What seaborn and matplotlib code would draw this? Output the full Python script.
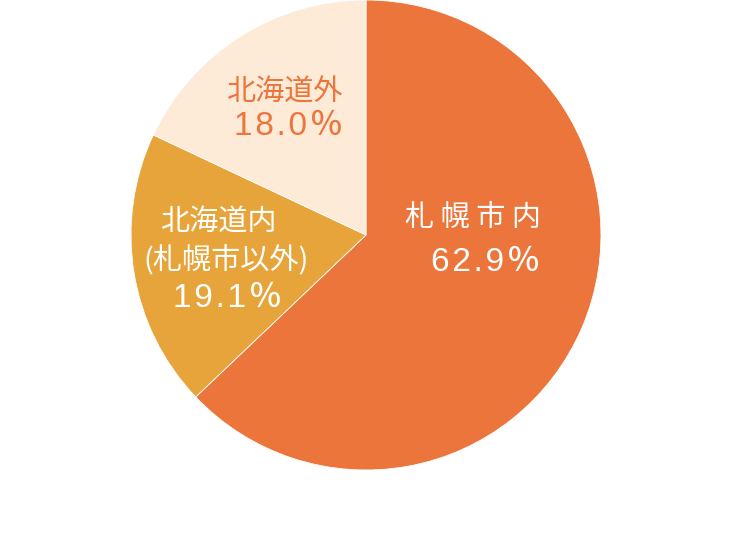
import matplotlib
matplotlib.use("Agg")
import matplotlib.pyplot as plt
import seaborn as sns

sns.set_theme(style="white")
plt.rcParams["font.family"] = ["Noto Sans CJK JP", "DejaVu Sans"]

labels = ["札幌市内", "北海道内\n(札幌市以外)", "北海道外"]
shares = [62.9, 19.1, 18.0]
colors = ["#EC753C", "#E7A43A", "#FDEAD7"]

fig = plt.figure(figsize=(7.5, 5.45), dpi=100)
ax = fig.add_axes([131 / 750, 75 / 545, 470 / 750, 470 / 545])

ax.pie(
    shares,
    colors=colors,
    startangle=90,
    counterclock=False,
    radius=1.0,
    wedgeprops=dict(edgecolor="white", linewidth=0.6),
)
ax.set_xlim(-1, 1)
ax.set_ylim(-1, 1)
ax.set_aspect("equal")
ax.axis("off")

num_font = ["Liberation Sans", "Noto Sans CJK JP", "DejaVu Sans"]


def pct(v):
    # slightly spaced digits like the original artwork
    return "\u200a".join(f"{v}") + "\u200a％"


# 札幌市内
ax.text(0.166, 0.072, "札 幌 市 内", color="white", fontsize=21,
        ha="left", va="center")
ax.text(0.74, -0.115, pct(shares[0]), color="white", fontsize=24,
        family=num_font, fontweight="medium", ha="right", va="center")

# 北海道内(札幌市以外)
ax.text(-0.63, 0.055, "北海道内", color="white", fontsize=21,
        ha="center", va="center")
ax.text(-0.596, -0.106, "(札幌市以外)", color="white", fontsize=21,
        ha="center", va="center")
ax.text(-0.59, -0.268, pct(shares[1]), color="white", fontsize=24,
        family=num_font, fontweight="medium", ha="center", va="center")

# 北海道外
ax.text(-0.098, 0.604, "北海道外", color="#EC753C", fontsize=21,
        ha="right", va="center")
ax.text(-0.098, 0.46, pct(shares[2]), color="#EC753C", fontsize=24,
        family=num_font, fontweight="medium", ha="right", va="center")

fig.savefig("out.png", dpi=100)
